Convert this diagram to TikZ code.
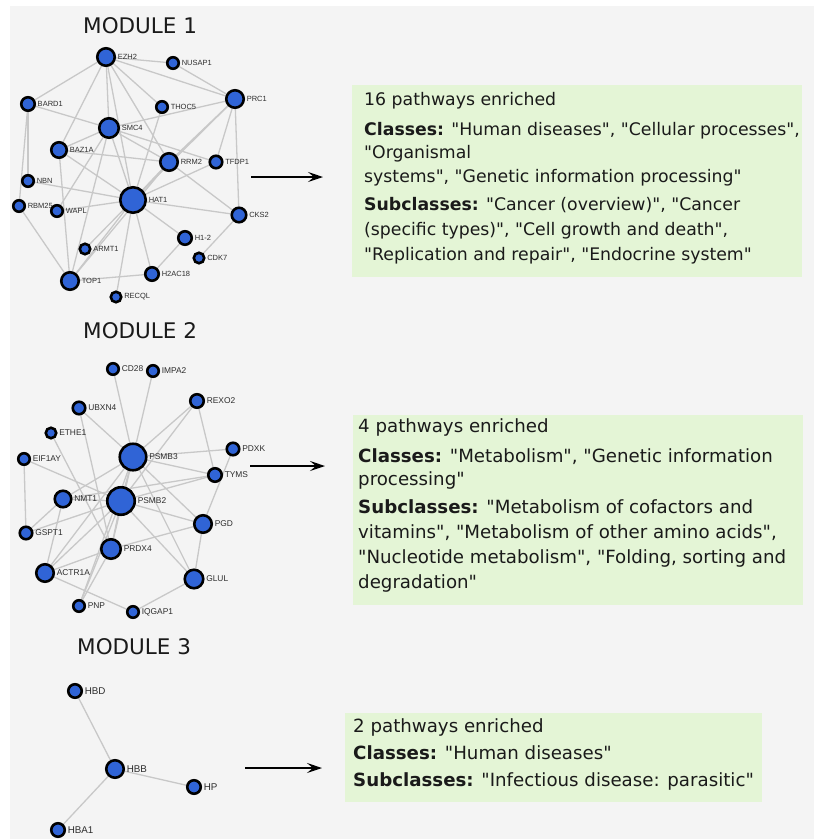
\documentclass[tikz,border=0pt]{standalone}
\usepackage{fontspec}
\setmainfont{DejaVu Sans}[Ligatures=TeXOff]
\newfontfamily\labfont{Liberation Sans}
\usetikzlibrary{arrows.meta}
\definecolor{bgc}{RGB}{244,244,244}
\definecolor{boxc}{RGB}{228,245,214}
\definecolor{nblue}{RGB}{48,100,214}
\definecolor{edgec}{RGB}{200,200,200}
\definecolor{labc}{RGB}{45,45,45}
\definecolor{txtc}{RGB}{26,26,26}
\pgfdeclarelayer{back}
\pgfdeclarelayer{edges}
\pgfsetlayers{back,edges,main}
\newcommand\gn[5]{%
  \node[gnode,minimum size=#4] (#1) at (#3) {};
  \node[glab=#5,anchor=west] (#1l) at ([xshift=1.2pt]#1.east) {#2};}
\begin{document}
\begin{tikzpicture}[x=1pt,y=-1pt,
  gnode/.style={circle,fill=nblue,draw=black,line width=2.6pt,inner sep=0pt},
  glab/.style={font=\labfont\fontsize{#1}{#1}\selectfont,text=labc,inner sep=0.3pt},
  edge/.style={draw=edgec,line width=1.3pt},
  title/.style={font=\fontsize{21.5}{24}\selectfont,text=txtc,anchor=base west,inner sep=0pt},
  box/.style={fill=boxc,draw=none,anchor=north west,inner sep=0pt},
  tl/.style={font=\fontsize{#1}{20}\selectfont,text=txtc,anchor=base west,inner sep=0pt},
  arr/.style={line width=1.7pt,-{Stealth[length=15pt,width=10pt,inset=6pt]}}]
\useasboundingbox (0,0) rectangle (814,839);
\begin{pgfonlayer}{back}
  \fill[white] (0,0) rectangle (814,839);
  \fill[bgc] (10,6) rectangle (814,839);
\end{pgfonlayer}

% titles
\node[title] (t1) at (83,33) {MODULE 1};
\node[title] (t2) at (83,338) {MODULE 2};
\node[title] (t3) at (77,654) {MODULE 3};

% ---------- Module 1 ----------
\gn{ezh2}{EZH2}{106,57}{17.5}{7.5}
\gn{nusap1}{NUSAP1}{173,63}{11.5}{7.5}
\gn{prc1}{PRC1}{235,99}{17.5}{7.5}
\gn{bard1}{BARD1}{28,104}{13.5}{7.5}
\gn{thoc5}{THOC5}{162,107}{11.5}{7.5}
\gn{smc4}{SMC4}{109,128}{19.5}{7.5}
\gn{baz1a}{BAZ1A}{59,150}{15.5}{7.5}
\gn{rrm2}{RRM2}{169,162}{17.5}{7.5}
\gn{tfdp1}{TFDP1}{216,162}{12.5}{7.5}
\gn{nbn}{NBN}{28,181}{11.5}{7.5}
\gn{hat1}{HAT1}{133,200}{25.5}{7.5}
\gn{rbm25}{RBM25}{19,206}{11.5}{7.5}
\gn{wapl}{WAPL}{57,211}{11.5}{7.5}
\gn{cks2}{CKS2}{239,215}{14.5}{7.5}
\gn{h12}{H1-2}{185,238}{13.5}{7.5}
\gn{armt1}{ARMT1}{85,249}{10.5}{7.5}
\gn{cdk7}{CDK7}{199,258}{10.5}{7.5}
\gn{top1}{TOP1}{70,281}{17.5}{7.5}
\gn{h2ac18}{H2AC18}{152,274}{13.5}{7.5}
\gn{recql}{RECQL}{116,297}{10.5}{7.5}

% ---------- Module 2 ----------
\gn{cd28}{CD28}{113,369}{11.5}{8.4}
\gn{impa2}{IMPA2}{153,371}{11.5}{8.4}
\gn{rexo2}{REXO2}{197,401}{13.5}{8.4}
\gn{ubxn4}{UBXN4}{79,408}{12.5}{8.4}
\gn{ethe1}{ETHE1}{51,433}{10.5}{8.4}
\gn{pdxk}{PDXK}{233,449}{12.5}{8.4}
\gn{eif1ay}{EIF1AY}{24,459}{11.5}{8.4}
\gn{psmb3}{PSMB3}{133,457}{26.5}{8.4}
\gn{tyms}{TYMS}{215,475}{13.5}{8.4}
\gn{nmt1}{NMT1}{63,499}{16.5}{8.4}
\gn{psmb2}{PSMB2}{121,501}{27.5}{8.4}
\gn{pgd}{PGD}{203,524}{17.5}{8.4}
\gn{gspt1}{GSPT1}{26,533}{12.5}{8.4}
\gn{prdx4}{PRDX4}{111,549}{19.5}{8.4}
\gn{actr1a}{ACTR1A}{45,573}{17.5}{8.4}
\gn{glul}{GLUL}{194,579}{18.5}{8.4}
\gn{pnp}{PNP}{79,606}{11.5}{8.4}
\gn{iqgap1}{IQGAP1}{133,612}{11.5}{8.4}

% ---------- Module 3 ----------
\gn{hbd}{HBD}{75,691}{13.5}{9.8}
\gn{hbb}{HBB}{115,769}{17.5}{9.8}
\gn{hp}{HP}{194,787}{13.5}{9.8}
\gn{hba1}{HBA1}{58,830}{13.5}{9.8}

\begin{pgfonlayer}{edges}
\foreach \a/\b in {ezh2/nusap1,ezh2/prc1,nusap1/prc1,ezh2/bard1,ezh2/smc4,ezh2/baz1a,
  ezh2/thoc5,ezh2/rrm2,ezh2/hat1,rrm2/cks2,bard1/nbn,bard1/rbm25,bard1/smc4,
  smc4/baz1a,smc4/rrm2,smc4/hat1,smc4/wapl,smc4/top1,smc4/prc1,smc4/tfdp1,baz1a/rrm2,baz1a/hat1,
  baz1a/top1,thoc5/hat1,prc1/rrm2,prc1/hat1,prc1/tfdp1,prc1/cks2,rrm2/hat1,tfdp1/hat1,
  nbn/hat1,wapl/hat1,rbm25/top1,hat1/cks2,hat1/h12,hat1/h2ac18,hat1/recql,hat1/top1,
  hat1/armt1,h12/h2ac18,top1/h2ac18,cks2/cdk7,top1/rrm2,
  cd28/psmb3,impa2/psmb3,rexo2/psmb3,rexo2/psmb2,rexo2/tyms,ubxn4/psmb3,ubxn4/prdx4,
  ethe1/prdx4,eif1ay/gspt1,eif1ay/psmb2,pdxk/psmb3,pdxk/pgd,tyms/psmb3,tyms/psmb2,
  tyms/nmt1,psmb3/psmb2,psmb3/nmt1,psmb3/pgd,psmb3/glul,psmb3/prdx4,psmb3/actr1a,
  psmb3/pnp,psmb2/nmt1,psmb2/gspt1,psmb2/pgd,psmb2/glul,psmb2/prdx4,psmb2/actr1a,
  psmb2/pnp,nmt1/actr1a,nmt1/gspt1,prdx4/pgd,prdx4/actr1a,prdx4/pnp,pgd/glul,
  glul/iqgap1,actr1a/iqgap1,
  hbd/hbb,hbb/hp,hbb/hba1}
  \draw[edge] (\a) -- (\b);
\end{pgfonlayer}

% ---------- Boxes ----------
\node[box,minimum width=450,minimum height=192] (b1) at (352,85) {};
\node[box,minimum width=450,minimum height=190] (b2) at (353,415) {};
\node[box,minimum width=417,minimum height=89] (b3) at (345,713) {};

\node[tl=17.3] (l11) at (364,105) {16 pathways enriched};
\node[tl=17.3] (l12) at (364,135) {\textbf{Classes:} "Human diseases", "Cellular processes",};
\node[tl=17.3] (l13) at (364,158) {"Organismal};
\node[tl=17.3] (l14) at (364,182) {systems", "Genetic information processing"};
\node[tl=17.3] (l15) at (364,210) {\textbf{Subclasses:} "Cancer (overview)", "Cancer};
\node[tl=17.3] (l16) at (364,235) {(specific types)", "Cell growth and death",};
\node[tl=17.3] (l17) at (364,260) {"Replication and repair", "Endocrine system"};

\node[tl=18.2] (l21) at (358,432) {4 pathways enriched};
\node[tl=18.2] (l22) at (358,462) {\textbf{Classes:} "Metabolism", "Genetic information};
\node[tl=18.2] (l23) at (358,485) {processing"};
\node[tl=18.2] (l24) at (358,513) {\textbf{Subclasses:} "Metabolism of cofactors and};
\node[tl=18.2] (l25) at (358,538) {vitamins", "Metabolism of other amino acids",};
\node[tl=18.2] (l26) at (358,563) {"Nucleotide metabolism", "Folding, sorting and};
\node[tl=18.2] (l27) at (358,588) {degradation"};

\node[tl=18.2] (l31) at (353,732) {2 pathways enriched};
\node[tl=18.2] (l32) at (353,759) {\textbf{Classes:} "Human diseases"};
\node[tl=18.2] (l33) at (353,786) {\textbf{Subclasses:} "Infectious disease: parasitic"};

% ---------- Arrows ----------
\coordinate (a1s) at (251,177); \coordinate (a1e) at (323,177);
\coordinate (a2s) at (250,466); \coordinate (a2e) at (325,466);
\coordinate (a3s) at (245,768); \coordinate (a3e) at (322,768);
\draw[arr] (a1s) -- (a1e);
\draw[arr] (a2s) -- (a2e);
\draw[arr] (a3s) -- (a3e);
\end{tikzpicture}
\end{document}
